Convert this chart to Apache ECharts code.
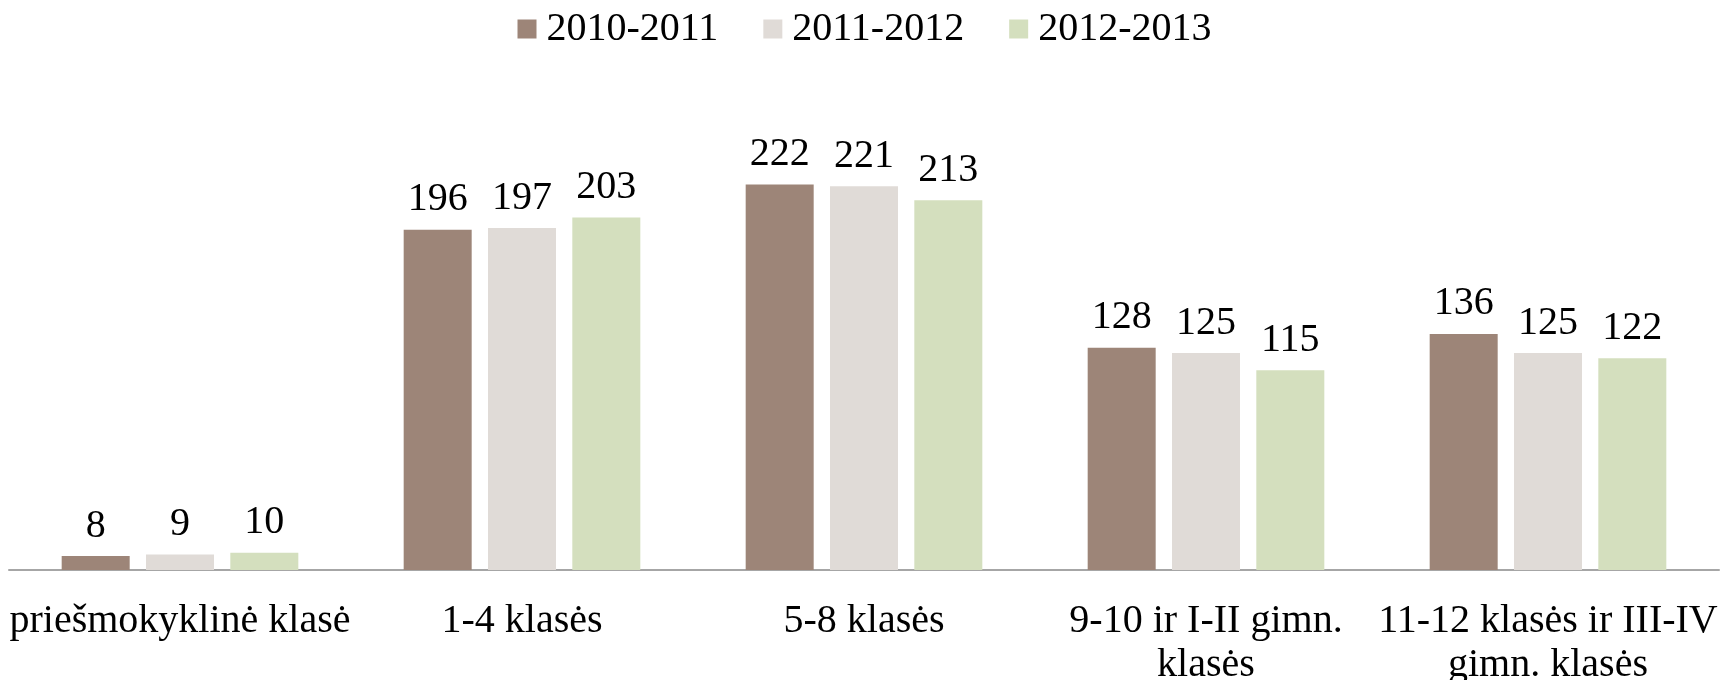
<!DOCTYPE html>
<html>
<head>
<meta charset="utf-8">
<script src="https://cdn.jsdelivr.net/npm/echarts@6/dist/echarts.min.js"></script>
<style>
  html, body { margin: 0; padding: 0; background: #fff; }
  #chart { width: 1729px; height: 680px; }
</style>
</head>
<body>
<div id="chart"></div>
<script>
// categories (wrapped like the original)
var categories = [
  'priešmokyklinė klasė',
  '1-4 klasės',
  '5-8 klasės',
  '9-10 ir I-II gimn.\nklasės',
  '11-12 klasės ir III-IV\ngimn. klasės'
];
var seriesNames = ['2010-2011', '2011-2012', '2012-2013'];
var values2010 = [8, 196, 222, 128, 136];
var values2011 = [9, 197, 221, 125, 125];
var values2012 = [10, 203, 213, 115, 122];
var colors = ['#9d8578', '#e0dbd7', '#d4dfbe'];

var fontFamily = '"Liberation Serif", "DejaVu Serif", serif';

var chart = echarts.init(document.getElementById('chart'));

function makeSerie(name, data, color) {
  return {
    name: name,
    type: 'bar',
    data: data,
    barWidth: 68,
    barGap: '24%',
    itemStyle: { color: color },
    label: {
      show: true,
      position: 'top',
      distance: 10,
      color: '#000',
      fontFamily: fontFamily,
      fontSize: 40,
      lineHeight: 40
    },
    emphasis: { disabled: true }
  };
}

var option = {
  animation: false,
  textStyle: { fontFamily: fontFamily },
  legend: {
    top: 4,
    left: 'center',
    itemWidth: 19,
    itemHeight: 19,
    itemGap: 45,
    icon: 'rect',
    textStyle: {
      color: '#000',
      fontFamily: fontFamily,
      fontSize: 40,
      padding: [0, 0, 0, 5]
    },
    data: seriesNames
  },
  grid: {
    left: 9,
    right: 10,
    top: 136,
    bottom: 110,
    containLabel: false,
    outerBoundsMode: 'none'
  },
  xAxis: {
    type: 'category',
    data: categories,
    axisTick: { show: false },
    axisLine: { lineStyle: { color: '#a6a6a6', width: 2 } },
    axisLabel: {
      interval: 0,
      margin: 29,
      color: '#000',
      fontFamily: fontFamily,
      fontSize: 40,
      lineHeight: 44
    }
  },
  yAxis: {
    type: 'value',
    min: 0,
    max: 250,
    show: false,
    splitLine: { show: false }
  },
  series: [
    makeSerie(seriesNames[0], values2010, colors[0]),
    makeSerie(seriesNames[1], values2011, colors[1]),
    makeSerie(seriesNames[2], values2012, colors[2])
  ]
};

chart.setOption(option);
</script>
</body>
</html>
